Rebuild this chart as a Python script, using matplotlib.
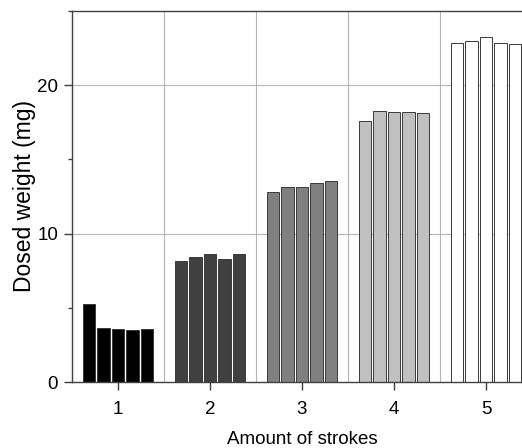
import numpy as np
import matplotlib
matplotlib.use("Agg")
import matplotlib.pyplot as plt
from matplotlib.ticker import MultipleLocator

plt.rcParams["font.family"] = ["Liberation Sans", "DejaVu Sans"]

# nombre de coups et masses dosées (5 répétitions par groupe)
strokes = [1, 2, 3, 4, 5]
weights = [
    [5.24, 3.64, 3.55, 3.52, 3.55],
    [8.13, 8.42, 8.60, 8.29, 8.65],
    [12.82, 13.16, 13.16, 13.41, 13.54],
    [17.58, 18.26, 18.21, 18.21, 18.10],
    [22.82, 22.95, 23.22, 22.82, 22.77],
]
colours = ["#000000", "#404040", "#808080", "#c0c0c0", "#ffffff"]

fig = plt.figure(figsize=(5.22, 4.48), dpi=100)
ax = fig.add_axes([72/522, 66/448, 460/522, (382-11)/448])

width = 0.138
step = 0.158
for i, s in enumerate(strokes):
    for j, w in enumerate(weights[i]):
        ax.bar(s + (j-2)*step, w, width=width, color=colours[i],
               edgecolor="#3a3a3a", linewidth=0.7, zorder=2)

ax.set_xlim(0.5, 5.5)
ax.set_ylim(0, 25)
ax.set_xticks(strokes)
ax.yaxis.set_major_locator(MultipleLocator(10))
ax.yaxis.set_minor_locator(MultipleLocator(5))

# grille grise (entre les groupes + y=10,20)
for xg in [1.5, 2.5, 3.5, 4.5]:
    ax.axvline(xg, color="#b4b4b4", linewidth=0.8, zorder=1)
for yg in [10, 20]:
    ax.axhline(yg, color="#b4b4b4", linewidth=0.8, zorder=1)

for side in ["left", "bottom", "top", "right"]:
    ax.spines[side].set_color("#404040")
    ax.spines[side].set_linewidth(1.0)

ax.tick_params(axis="both", which="major", direction="out", length=6,
               width=1.0, color="#404040", labelsize=13.5, pad=4)
ax.tick_params(axis="y", which="minor", direction="out", length=3,
               width=1.0, color="#404040")
ax.tick_params(axis="x", which="major", pad=8)

ax.set_xlabel("Amount of strokes", fontsize=13.5, labelpad=9)
ax.set_ylabel("Dosed weight (mg)", fontsize=16.5, labelpad=1)

plt.savefig("out.png", dpi=100)
